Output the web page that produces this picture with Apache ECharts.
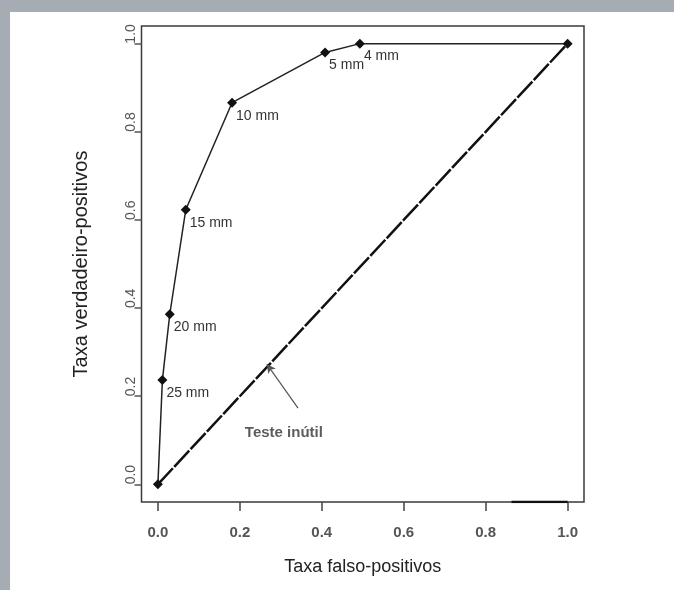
<!DOCTYPE html>
<html>
<head>
<meta charset="utf-8">
<script src="https://cdn.jsdelivr.net/npm/echarts@6/dist/echarts.min.js"></script>
<style>
html,body{margin:0;padding:0;background:#fff;}
#chart{width:674px;height:590px;}
</style>
</head>
<body>
<div id="chart"></div>
<script>
// Data
const fpr = [0, 0.011, 0.029, 0.068, 0.181, 0.408, 0.493, 1.0];
const tpr = [0, 0.237, 0.386, 0.623, 0.866, 0.980, 1.0, 1.0];
const pointLabels = ['', '25 mm', '20 mm', '15 mm', '10 mm', '5 mm', '4 mm', ''];
const diagonalX = [0, 1];
const diagonalY = [0, 1];
const tickValues = [0, 0.2, 0.4, 0.6, 0.8, 1.0];
const arrowFrom = [0.342, 0.173];
const arrowTo = [0.266, 0.273];
const noteText = 'Teste inútil';
const notePos = [0.3075, 0.117];
const bottomSegX = [0.863, 1.0];
const xTitle = 'Taxa falso-positivos';
const yTitle = 'Taxa verdadeiro-positivos';

const rocData = fpr.map((x, i) => ({ value: [x, tpr[i]], label: { show: pointLabels[i] !== '', formatter: pointLabels[i] } }));
const diagData = diagonalX.map((x, i) => [x, diagonalY[i]]);

const chart = echarts.init(document.getElementById('chart'), null, { renderer: 'canvas' });
const fontFam = '"Liberation Sans", Arial, sans-serif';

chart.setOption({
  animation: false,
  backgroundColor: '#ffffff',
  graphic: [
    { type: 'rect', left: 0, top: 0, shape: { width: 674, height: 12 }, style: { fill: '#a5acb4' }, z: 100 },
    { type: 'rect', left: 0, top: 0, shape: { width: 10, height: 590 }, style: { fill: '#a5acb4' }, z: 100 }
  ],
  grid: {
    left: 141.5, top: 26, right: 90, bottom: 88,
    show: true, borderColor: '#3a3a3a', borderWidth: 1.5, backgroundColor: 'transparent'
  },
  xAxis: {
    type: 'value', min: -0.04, max: 1.04,
    name: xTitle, nameLocation: 'middle', nameGap: 56,
    nameTextStyle: { fontSize: 18, color: '#222', fontFamily: fontFam },
    axisLine: { show: false, onZero: false },
    splitLine: { show: false },
    axisTick: { show: true, inside: false, length: 9, customValues: tickValues, lineStyle: { color: '#444', width: 1.5 } },
    axisLabel: { customValues: tickValues, margin: 23, fontSize: 15, fontWeight: 'bold', color: '#555', fontFamily: fontFam,
      formatter: v => v.toFixed(1) }
  },
  yAxis: {
    type: 'value', min: -0.04, max: 1.04,
    name: yTitle, nameLocation: 'middle', nameGap: 50,
    nameTextStyle: { fontSize: 20, color: '#222', fontFamily: fontFam },
    axisLine: { show: false, onZero: false },
    splitLine: { show: false },
    axisTick: { show: true, inside: false, length: 7, customValues: tickValues, lineStyle: { color: '#555', width: 1.5 } },
    axisLabel: { customValues: tickValues, rotate: 90, align: 'left', margin: 3, fontSize: 14, color: '#555', fontFamily: fontFam,
      formatter: v => v.toFixed(1) }
  },
  series: [
    {
      type: 'line',
      data: diagData,
      symbol: 'none',
      lineStyle: { color: '#111', width: 2.5, type: [22, 2] },
      z: 2,
      markLine: {
        silent: true,
        symbol: ['none', 'arrow'],
        symbolSize: [7, 9],
        label: { show: false },
        lineStyle: { color: '#555', width: 1.2, type: 'solid' },
        data: [[{ coord: arrowFrom }, { coord: arrowTo }]]
      }
    },
    {
      type: 'line',
      data: rocData,
      symbol: 'diamond',
      symbolSize: 10,
      itemStyle: { color: '#111' },
      lineStyle: { color: '#222', width: 1.5 },
      label: {
        position: 'inside', align: 'left', verticalAlign: 'middle', offset: [4, 13],
        fontSize: 14, color: '#333', fontFamily: fontFam
      },
      z: 3
    },
    {
      type: 'line',
      data: bottomSegX.map(x => [x, -0.04]),
      symbol: 'none',
      lineStyle: { color: '#111', width: 2.5 },
      z: 4
    },
    {
      type: 'scatter',
      data: [notePos],
      symbolSize: 0,
      label: { show: true, position: 'inside', formatter: noteText, fontSize: 15, fontWeight: 'bold', color: '#333', fontFamily: fontFam },
      z: 5
    }
  ]
});
</script>
</body>
</html>
